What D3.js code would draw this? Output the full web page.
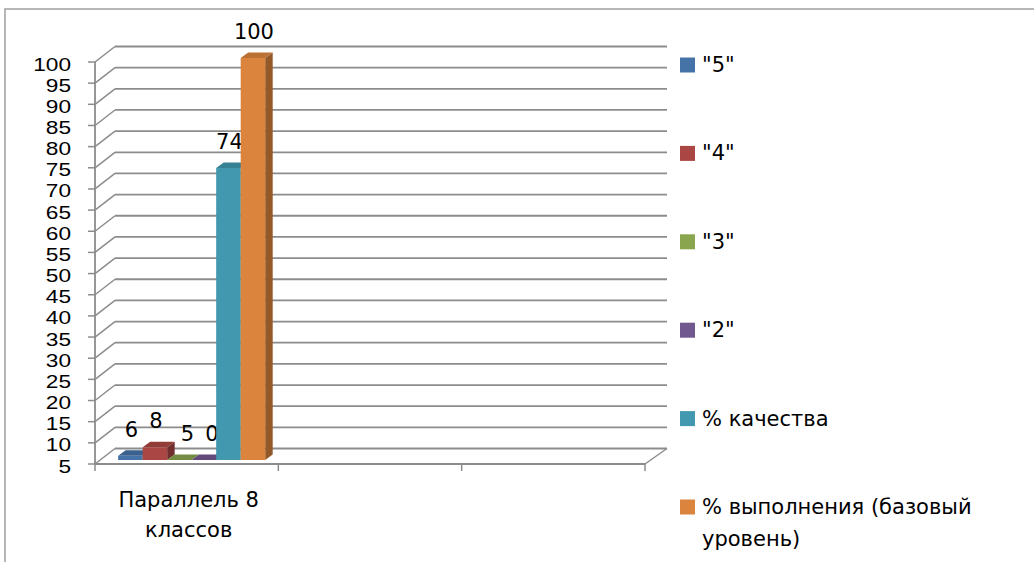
<!DOCTYPE html>
<html>
<head>
<meta charset="utf-8">
<script src="https://cdn.jsdelivr.net/npm/d3@7"></script>
<style>
  html, body { margin: 0; padding: 0; background: #fff; }
  svg { display: block; }
  text { font-family: "DejaVu Sans", sans-serif; fill: #000; }
  text.ylab { font-family: "Liberation Sans", "DejaVu Sans", sans-serif; }
</style>
</head>
<body>
<svg id="chart" width="1034" height="562"></svg>
<script>
// ---- data ----
const categories = ["Параллель 8 классов", "", ""];
const seriesNames = ['"5"', '"4"', '"3"', '"2"', "% качества", "% выполнения (базовый уровень)"];
const seriesValues = [6, 8, 5, 0, 74, 100];
const seriesColors = ["#4572A7", "#AA4643", "#89A54E", "#71588F", "#4198AF", "#DB843D"];
const yTicks = d3.range(5, 101, 5);

// ---- layout ----
const svg = d3.select("#chart");
const W = 1034, H = 562;
const plot = { left: 95, right: 645, top: 62, bottom: 464 };
const wall = { dx: 20, dy: -15.5 };     // depth of the floor / side wall
const barOff = { dx: 5, dy: -4 };      // front plane of the bars
const barDepth = { dx: 7.5, dy: -5.5 };
const axisFont = 18.5;
const textFont = 21;
const gridColor = "#8c8c8c";

// chart border (cropped at right and bottom)
svg.append("rect")
  .attr("x", 5).attr("y", 9).attr("width", W + 20).attr("height", H + 20)
  .attr("fill", "none").attr("stroke", "#a0a0a0").attr("stroke-width", 1.5);

const y = d3.scaleLinear().domain([5, 100]).range([plot.bottom, plot.top]);
const x0 = d3.scaleBand().domain(d3.range(categories.length)).range([plot.left, plot.right]);
const x1 = d3.scaleBand().domain(d3.range(seriesNames.length))
  .range([0, x0.bandwidth()]).paddingInner(0).paddingOuter(0.74);

const g = svg.append("g");

// back wall gridlines
g.selectAll("line.back").data(yTicks).join("line")
  .attr("x1", plot.left + wall.dx).attr("x2", plot.right + wall.dx + 2)
  .attr("y1", d => y(d) + wall.dy).attr("y2", d => y(d) + wall.dy)
  .attr("stroke", gridColor).attr("stroke-width", 1.8);

// side wall slants
g.selectAll("line.side").data(yTicks).join("line")
  .attr("x1", plot.left).attr("x2", plot.left + wall.dx)
  .attr("y1", d => y(d)).attr("y2", d => y(d) + wall.dy)
  .attr("stroke", gridColor).attr("stroke-width", 1.5);

// floor front edge and right slant
g.append("line")
  .attr("x1", plot.left).attr("x2", plot.right)
  .attr("y1", plot.bottom).attr("y2", plot.bottom)
  .attr("stroke", gridColor).attr("stroke-width", 1.8);
g.append("line")
  .attr("x1", plot.right).attr("x2", plot.right + wall.dx + 2)
  .attr("y1", plot.bottom).attr("y2", plot.bottom + wall.dy)
  .attr("stroke", gridColor).attr("stroke-width", 1.5);

// vertical axis line
g.append("line")
  .attr("x1", plot.left).attr("x2", plot.left)
  .attr("y1", y(100)).attr("y2", y(5))
  .attr("stroke", gridColor).attr("stroke-width", 1.8);

// y ticks + labels
g.selectAll("line.ytick").data(yTicks).join("line")
  .attr("x1", plot.left - 7).attr("x2", plot.left)
  .attr("y1", d => y(d)).attr("y2", d => y(d))
  .attr("stroke", gridColor).attr("stroke-width", 1.5);
g.selectAll("text.ylab").data(yTicks).join("text")
  .attr("class", "ylab")
  .attr("x", 71).attr("y", d => y(d) + 2)
  .attr("text-anchor", "end").attr("dominant-baseline", "central")
  .attr("font-size", axisFont)
  .attr("textLength", d => String(d).length * 12.6)
  .attr("lengthAdjust", "spacingAndGlyphs")
  .text(d => d);

// category ticks
const catEdges = d3.range(categories.length + 1).map(i => plot.left + i * x0.step());
g.selectAll("line.xtick").data(catEdges).join("line")
  .attr("x1", d => d).attr("x2", d => d)
  .attr("y1", plot.bottom).attr("y2", plot.bottom + 7)
  .attr("stroke", gridColor).attr("stroke-width", 1.5);

// word-wrap helper
function wrapText(textSel, str, maxW, lineH) {
  const words = str.split(/\s+/);
  let line = [], lines = [];
  const tmp = textSel.append("tspan");
  for (const w of words) {
    const test = line.concat([w]).join(" ");
    tmp.text(test);
    if (tmp.node().getComputedTextLength() > maxW && line.length) {
      lines.push(line.join(" "));
      line = [w];
    } else line.push(w);
  }
  if (line.length) lines.push(line.join(" "));
  tmp.remove();
  const x = textSel.attr("x");
  lines.forEach((l, i) => {
    textSel.append("tspan").attr("x", x).attr("dy", i === 0 ? 0 : lineH).text(l);
  });
  return lines.length;
}

// category labels
categories.forEach((c, i) => {
  if (!c) return;
  const t = g.append("text")
    .attr("x", x0(i) + x0.bandwidth() / 2 + 2).attr("y", 507)
    .attr("text-anchor", "middle").attr("font-size", textFont);
  wrapText(t, c, 170, 30);
});

// bars (3D)
const bars = g.append("g");
seriesValues.forEach((v, i) => {
  const col = d3.color(seriesColors[i]);
  const xl = x0(0) + x1(i) + barOff.dx;
  const xr = xl + x1.bandwidth();
  const yb = plot.bottom + barOff.dy;
  const yt = y(Math.max(v, 5)) + barOff.dy;
  const dx = barDepth.dx, dy = barDepth.dy;
  // side face
  bars.append("path")
    .attr("d", `M${xr},${yb}L${xr + dx},${yb + dy}L${xr + dx},${yt + dy}L${xr},${yt}Z`)
    .attr("fill", col.darker(1.1));
  // front face
  if (yb - yt > 0.1) {
    bars.append("rect")
      .attr("x", xl).attr("y", yt).attr("width", xr - xl).attr("height", yb - yt)
      .attr("fill", col);
  }
  // top face
  bars.append("path")
    .attr("d", `M${xl},${yt}L${xr},${yt}L${xr + dx},${yt + dy}L${xl + dx},${yt + dy}Z`)
    .attr("fill", col.darker(0.45));
  // value label (flat bars get their label nudged right, as in the reference)
  const flat = v <= 5 ? 7 : 0;
  bars.append("text")
    .attr("x", (xl + xr) / 2 + 1 + flat).attr("y", yt - 26)
    .attr("text-anchor", "middle").attr("dominant-baseline", "central")
    .attr("font-size", textFont)
    .text(v);
});

// legend
const legendTop = 65, legendStep = 88.4;
seriesNames.forEach((name, i) => {
  const cy = legendTop + i * legendStep;
  svg.append("rect")
    .attr("x", 680).attr("y", cy - 7.5).attr("width", 15).attr("height", 15)
    .attr("fill", seriesColors[i]);
  const t = svg.append("text")
    .attr("x", 702).attr("y", cy + 7)
    .attr("font-size", textFont);
  wrapText(t, name, 300, 32);
});
</script>
</body>
</html>
